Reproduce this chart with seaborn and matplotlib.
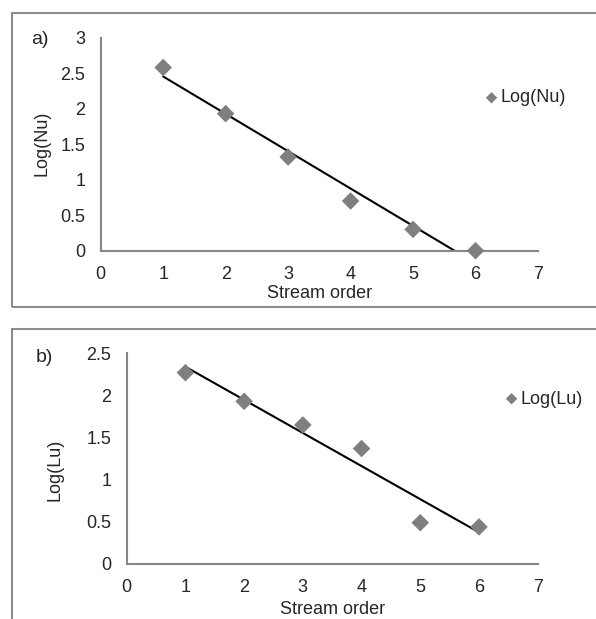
import matplotlib
matplotlib.use('Agg')
import matplotlib.pyplot as plt
import matplotlib.patches as mpatches
from matplotlib.ticker import FuncFormatter, MultipleLocator
import seaborn as sns
import pandas as pd

# stream order data
stream_order = [1, 2, 3, 4, 5, 6]
log_nu = [2.58, 1.93, 1.32, 0.70, 0.30, 0.00]
log_lu = [2.27, 1.93, 1.65, 1.37, 0.49, 0.44]

W, H = 596, 619
sns.set_style('white')
plt.rcParams['font.family'] = ['Liberation Sans', 'DejaVu Sans']
plt.rcParams['font.size'] = 13

MARKER = '#7f7f7f'
SPINE = '#868686'
BOX = '#8c8c8c'


def px_rect(left, top, right, bottom):
    return [left / W, 1 - bottom / H, (right - left) / W, (bottom - top) / H]


fig = plt.figure(figsize=(W / 100, H / 100), dpi=100)

# panel frames like the Excel chart areas
fig.patches.append(mpatches.Rectangle((12 / W, 1 - 307 / H), 700 / W, 294 / H,
                                      transform=fig.transFigure, fill=False,
                                      edgecolor=BOX, linewidth=1.5))
fig.patches.append(mpatches.Rectangle((12 / W, -0.2), 700 / W, 0.2 + (1 - 329 / H),
                                      transform=fig.transFigure, fill=False,
                                      edgecolor=BOX, linewidth=1.5))

panels = [
    dict(rect=px_rect(100.7, 37.7, 538, 250.7), y=log_nu, name='Log(Nu)', ymax=3,
         ylab_xy=(-0.134, 0.506), xlab_y=-0.199, leg=(487.5, 98), tag=('a)', 40, 39)),
    dict(rect=px_rect(126.7, 353.3, 537.7, 564), y=log_lu, name='Log(Lu)', ymax=2.5,
         ylab_xy=(-0.1745, 0.446), xlab_y=-0.218, leg=(507.5, 399), tag=('b)', 44, 358)),
]

for p in panels:
    ax = fig.add_axes(p['rect'])
    df = pd.DataFrame({'Stream order': stream_order, p['name']: p['y']})
    sns.regplot(data=df, x='Stream order', y=p['name'], ax=ax, scatter=False,
                ci=None, truncate=True, line_kws=dict(color='black', linewidth=1.5))
    sns.scatterplot(data=df, x='Stream order', y=p['name'], ax=ax, marker='D',
                    s=80, color=MARKER, edgecolor='none', label=p['name'],
                    zorder=3, clip_on=False)

    ax.set_xlim(0, 7)
    ax.set_ylim(0, p['ymax'])
    ax.xaxis.set_major_locator(MultipleLocator(1))
    ax.yaxis.set_major_locator(MultipleLocator(0.5))
    ax.yaxis.set_major_formatter(FuncFormatter(lambda v, _: f'{v:g}'))
    ax.tick_params(length=0, pad=11, labelsize=13)

    for side in ('top', 'right'):
        ax.spines[side].set_visible(False)
    for side in ('left', 'bottom'):
        ax.spines[side].set_color(SPINE)
        ax.spines[side].set_linewidth(1.5)

    ax.set_xlabel('Stream order', fontsize=13, va='center')
    ax.xaxis.set_label_coords(0.5, p['xlab_y'])
    ax.set_ylabel(p['name'], fontsize=13, va='center')
    ax.yaxis.set_label_coords(*p['ylab_xy'])

    lx, ly = p['leg']
    ax.legend(loc='center left', bbox_to_anchor=(lx / W, 1 - ly / H),
              bbox_transform=fig.transFigure, frameon=False, borderpad=0,
              borderaxespad=0, handlelength=0.45, handletextpad=0.25,
              markerscale=0.65, fontsize=13)

    t, tx, ty = p['tag']
    fig.text(tx / W, 1 - ty / H, t, ha='center', va='center', fontsize=14)

fig.savefig('out.png', dpi=100)
plt.close(fig)
